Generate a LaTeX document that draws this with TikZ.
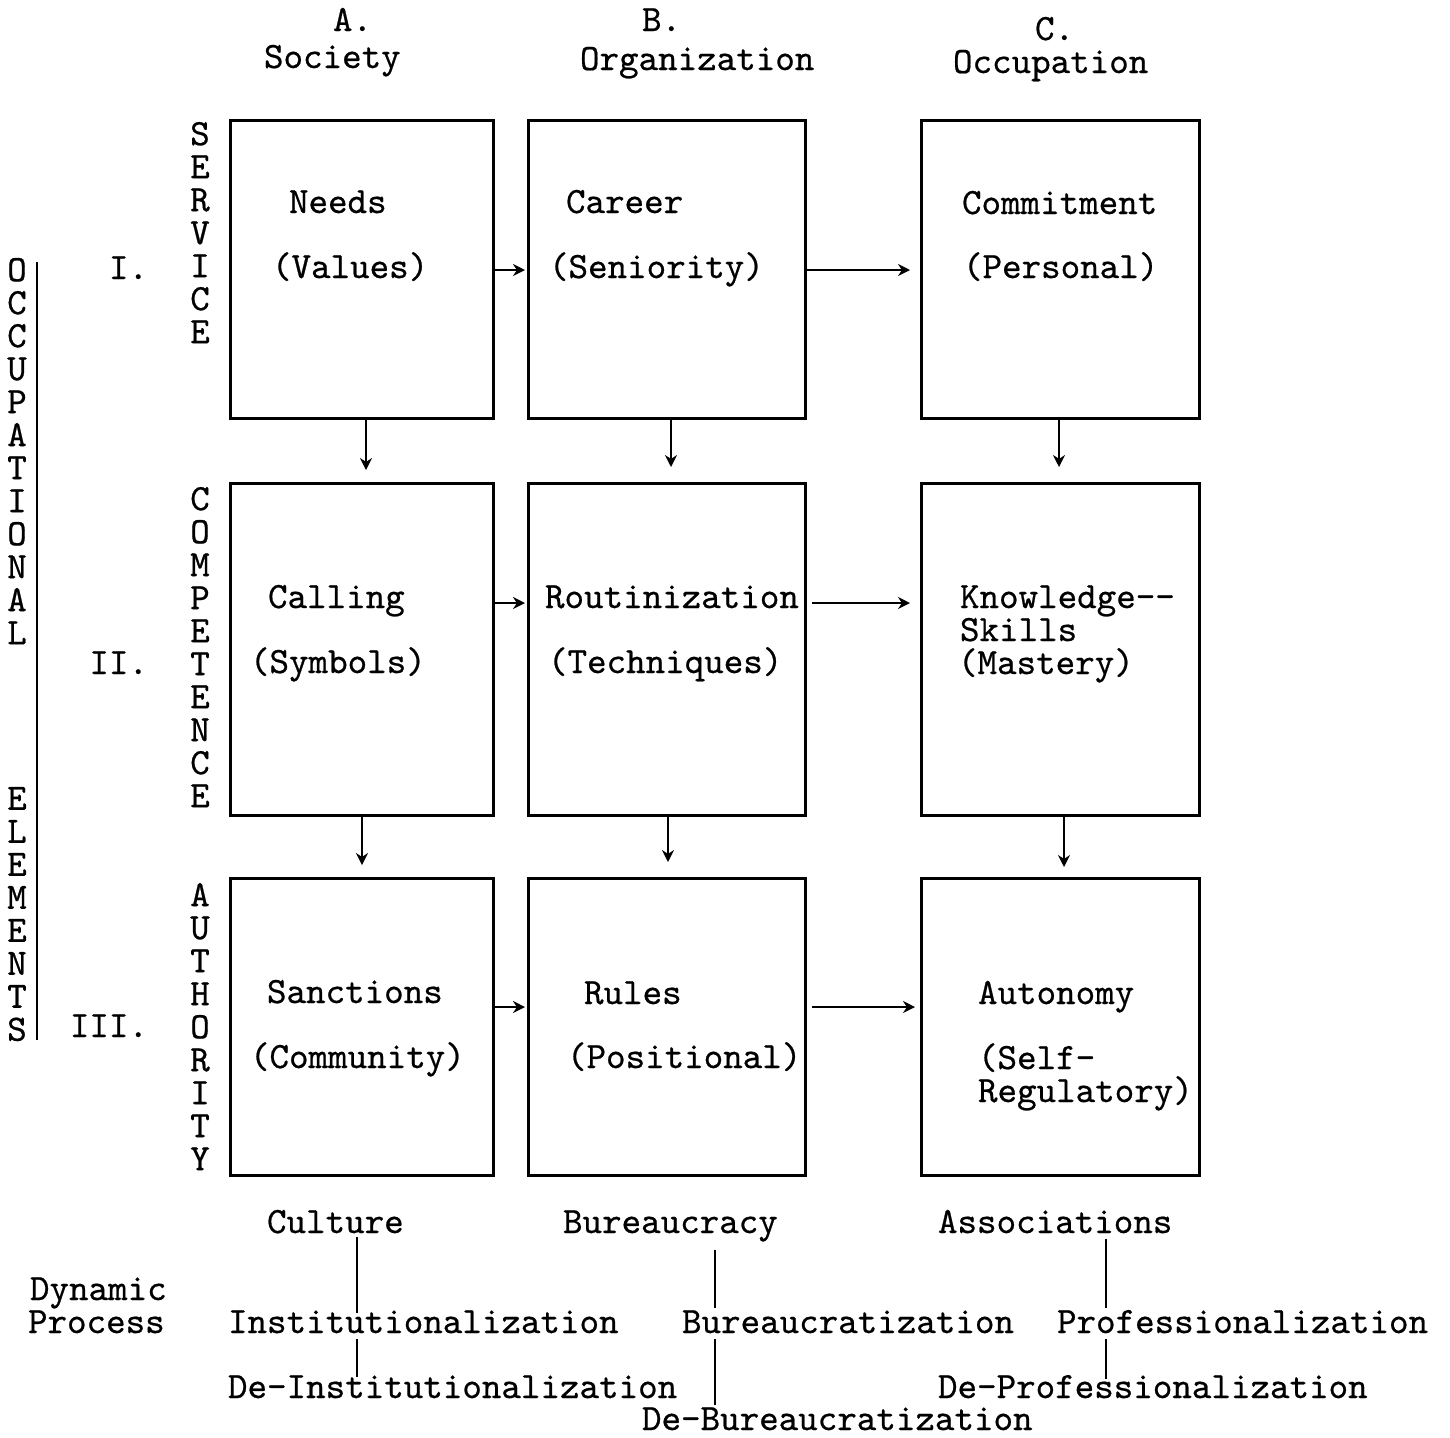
\documentclass[tikz,border=0pt]{standalone}
\usepackage{fontspec}
\newfontfamily\tw{lmmono10-regular.otf}[FakeBold=0.6]
\usetikzlibrary{arrows.meta,calc}
\begin{document}
\begin{tikzpicture}[x=0.5pt,y=-0.5pt,
  every node/.style={inner sep=0pt,outer sep=0pt,font=\tw\fontsize{18.6}{16.5}\selectfont},
  box/.style={draw,line width=1.5pt},
  txt/.style={anchor=base west},
  vtxt/.style={anchor=north,align=center},
  arr/.style={line width=1.4pt,-{Stealth[length=6pt,width=6pt]}},
  lnk/.style={line width=1.4pt}]
\useasboundingbox (0,0) rectangle (1450,1437);
% boxes
\node[box,minimum width=131.5pt,minimum height=149pt] (A1) at (361.5,269) {};
\node[box,minimum width=138.5pt,minimum height=149pt] (B1) at (666.5,269) {};
\node[box,minimum width=139pt,minimum height=149pt] (C1) at (1060,269) {};
\node[box,minimum width=131.5pt,minimum height=166pt] (A2) at (361.5,649) {};
\node[box,minimum width=138.5pt,minimum height=166pt] (B2) at (666.5,649) {};
\node[box,minimum width=139pt,minimum height=166pt] (C2) at (1060,649) {};
\node[box,minimum width=131.5pt,minimum height=148.5pt] (A3) at (361.5,1026.5) {};
\node[box,minimum width=138.5pt,minimum height=148.5pt] (B3) at (666.5,1026.5) {};
\node[box,minimum width=139pt,minimum height=148.5pt] (C3) at (1060,1026.5) {};
% headers
\node[txt] (hA) at (333,31) {A.};
\node[txt] (hAs) at (264,68) {Society};
\node[txt] (hB) at (642,31) {B.};
\node[txt] (hBs) at (580,70) {Organization};
\node[txt] (hC) at (1035,40) {C.};
\node[txt] (hCs) at (953,73) {Occupation};
% box texts
\node[txt] (t11) at (289,213) {Needs};
\node[txt] (t12) at (272,278) {(Values)};
\node[txt] (t21) at (566,213) {Career};
\node[txt] (t22) at (549,278) {(Seniority)};
\node[txt] (t31) at (962,214) {Commitment};
\node[txt] (t32) at (963,278) {(Personal)};
\node[txt] (u11) at (268,608) {Calling};
\node[txt] (u12) at (250,673) {(Symbols)};
\node[txt] (u21) at (545,608) {Routinization};
\node[txt] (u22) at (548,673) {(Techniques)};
\node[txt] (u31) at (960,608) {Knowledge-{}-};
\node[txt] (u32) at (960,641) {Skills};
\node[txt] (u33) at (958,674) {(Mastery)};
\node[txt] (v11) at (267,1003) {Sanctions};
\node[txt] (v12) at (250,1068) {(Community)};
\node[txt] (v21) at (584,1004) {Rules};
\node[txt] (v22) at (567,1068) {(Positional)};
\node[txt] (v31) at (978,1004) {Autonomy};
\node[txt] (v32) at (978,1069) {(Self-};
\node[txt] (v33) at (978,1102) {Regulatory)};
% roman numerals
\node[anchor=base east] (r1) at (148,279) {I.};
\node[anchor=base east] (r2) at (148,674) {II.};
\node[anchor=base east] (r3) at (148,1037) {III.};
% vertical labels
\node[vtxt] (serv) at (200,122) {S\\E\\R\\V\\I\\C\\E};
\node[vtxt] (comp) at (200,487) {C\\O\\M\\P\\E\\T\\E\\N\\C\\E};
\node[vtxt] (auth) at (200,883) {A\\U\\T\\H\\O\\R\\I\\T\\Y};
\node[vtxt] (occ) at (17,258) {O\\C\\C\\U\\P\\A\\T\\I\\O\\N\\A\\L};
\node[vtxt] (elem) at (17,787) {E\\L\\E\\M\\E\\N\\T\\S};
\coordinate (vt) at (37,262);
\coordinate (vb) at (37,1040);
\draw[line width=1pt] (vt) -- (vb);
% horizontal arrows
\draw[arr,shorten >=1.5pt] ($(A1.east)+(0,1)$) -- ($(B1.west)+(0,1)$);
\draw[arr,shorten >=5.5pt] ($(B1.east)+(0,1)$) -- ($(C1.west)+(0,1)$);
\draw[arr,shorten >=1.5pt] ($(A2.east)+(0,-46)$) -- ($(B2.west)+(0,-46)$);
\draw[arr,shorten <=3.5pt,shorten >=5.5pt] ($(B2.east)+(0,-46)$) -- ($(C2.west)+(0,-46)$);
\draw[arr,shorten >=1.5pt] ($(A3.east)+(0,-19.5)$) -- ($(B3.west)+(0,-19.5)$);
\draw[arr,shorten <=3.5pt,shorten >=3pt] ($(B3.east)+(0,-19.5)$) -- ($(C3.west)+(0,-19.5)$);
% vertical arrows
\draw[arr,shorten >=6.5pt] ($(A1.south)+(4.5,0)$) -- ($(A2.north)+(4.5,0)$);
\draw[arr,shorten >=8pt] ($(B1.south)+(4.5,0)$) -- ($(B2.north)+(4.5,0)$);
\draw[arr,shorten >=8pt] ($(C1.south)+(-1,0)$) -- ($(C2.north)+(-1,0)$);
\draw[arr,shorten >=6.5pt] ($(A2.south)+(0.5,0)$) -- ($(A3.north)+(0.5,0)$);
\draw[arr,shorten >=8pt] ($(B2.south)+(1.5,0)$) -- ($(B3.north)+(1.5,0)$);
\draw[arr,shorten >=5.5pt] ($(C2.south)+(4,0)$) -- ($(C3.north)+(4,0)$);
% bottom
\node[txt] (cult) at (267,1233) {Culture};
\node[txt] (bur) at (563,1233) {Bureaucracy};
\node[txt] (assoc) at (938,1233) {Associations};
\node[txt] (dyn) at (30,1300) {Dynamic};
\node[txt] (proc) at (28,1333) {Process};
\node[txt] (inst) at (228,1333) {Institutionalization};
\node[txt] (burz) at (682,1333) {Bureaucratization};
\node[txt] (prof) at (1057,1333) {Professionalization};
\node[txt] (deinst) at (228,1398) {De-Institutionalization};
\node[txt] (deprof) at (938,1398) {De-Professionalization};
\node[txt] (deburz) at (642,1430) {De-Bureaucratization};
\coordinate (xa) at (357,0);
\coordinate (xb) at (715,0);
\coordinate (xc) at (1106,0);
\draw[lnk] ($(cult.south -| xa)+(0,4)$) -- ($(inst.north -| xa)+(0,3)$);
\draw[lnk] ($(inst.south -| xa)+(0,6)$) -- ($(deinst.north -| xa)+(0,2)$);
\draw[lnk] ($(bur.south -| xb)+(0,8)$) -- ($(burz.north -| xb)+(0,-2)$);
\draw[lnk] ($(burz.south -| xb)+(0,6)$) -- ($(deburz.north -| xb)+(0,-2)$);
\draw[lnk] ($(assoc.south -| xc)+(0,6)$) -- ($(prof.north -| xc)+(0,-2)$);
\draw[lnk] ($(prof.south -| xc)+(0,6)$) -- ($(deprof.north -| xc)+(0,4)$);
\end{tikzpicture}
\end{document}
